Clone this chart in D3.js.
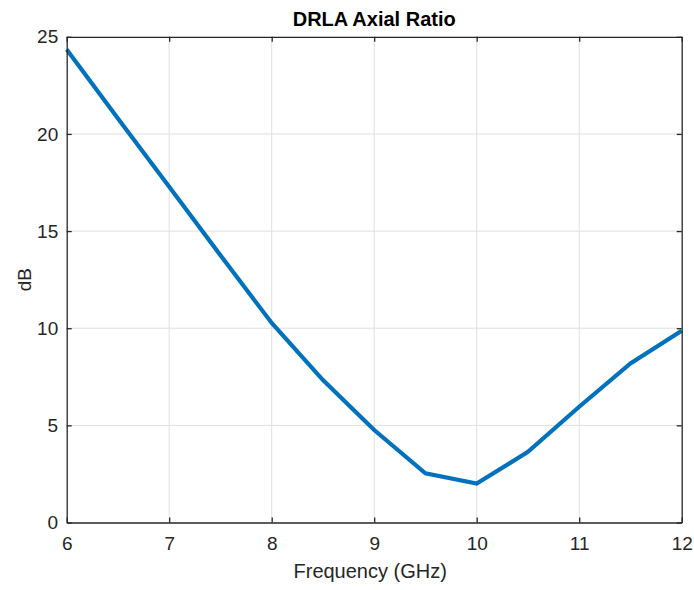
<!DOCTYPE html>
<html>
<head>
<meta charset="utf-8">
<script src="https://cdn.jsdelivr.net/npm/d3@7"></script>
<style>
  html, body { margin: 0; padding: 0; background: #fff; }
  svg { display: block; font-family: "Liberation Sans", Arial, Helvetica, sans-serif; }
</style>
</head>
<body>
<svg id="chart" width="694" height="590"></svg>
<script>
// Axial ratio of the DRLA versus frequency
const frequencyGHz = [6, 6.5, 7, 7.5, 8, 8.5, 9, 9.5, 10, 10.5, 11, 11.5, 12];
const axialRatioDb = [24.35, 20.8, 17.28, 13.75, 10.27, 7.33, 4.76, 2.53, 2.0, 3.64, 5.96, 8.19, 9.87];
const xTicks = [6, 7, 8, 9, 10, 11, 12];
const yTicks = [0, 5, 10, 15, 20, 25];

const svg = d3.select("#chart");
const plot = { left: 66.7, right: 681.7, top: 36.8, bottom: 522.5 };
const axisColor = "#262626";

const x = d3.scaleLinear().domain([6, 12]).range([plot.left, plot.right]);
const y = d3.scaleLinear().domain([0, 25]).range([plot.bottom, plot.top]);

// grid
const grid = svg.append("g").attr("stroke", "#dfdfdf").attr("stroke-width", 1);
grid.selectAll("line.gx").data(xTicks.slice(1, -1)).join("line")
  .attr("x1", d => x(d)).attr("x2", d => x(d))
  .attr("y1", plot.top).attr("y2", plot.bottom);
grid.selectAll("line.gy").data(yTicks.slice(1, -1)).join("line")
  .attr("y1", d => y(d)).attr("y2", d => y(d))
  .attr("x1", plot.left).attr("x2", plot.right);

// data line
const line = d3.line().x((d, i) => x(frequencyGHz[i])).y(d => y(d));
svg.append("path")
  .datum(axialRatioDb)
  .attr("d", line)
  .attr("fill", "none")
  .attr("stroke", "#0072BD")
  .attr("stroke-width", 4.2)
  .attr("stroke-linejoin", "miter");

// axes: boxed, ticks pointing inward on all four sides
const tickLen = 5;
const bottomAxis = d3.axisBottom(x).tickValues(xTicks).tickSize(-tickLen).tickSizeOuter(0).tickPadding(14.5).tickFormat(d3.format("d"));
const topAxis = d3.axisTop(x).tickValues(xTicks).tickSize(-tickLen).tickSizeOuter(0).tickFormat("");
const leftAxis = d3.axisLeft(y).tickValues(yTicks).tickSize(-tickLen).tickSizeOuter(0).tickPadding(8.5).tickFormat(d3.format("d"));
const rightAxis = d3.axisRight(y).tickValues(yTicks).tickSize(-tickLen).tickSizeOuter(0).tickFormat("");

function styleAxis(g) {
  g.select(".domain").attr("stroke", axisColor).attr("stroke-width", 1.3);
  g.selectAll(".tick line").attr("stroke", axisColor).attr("stroke-width", 1.3);
  g.selectAll(".tick text").attr("fill", axisColor).style("font-size", "19px");
}

svg.append("g").attr("transform", `translate(0,${plot.bottom})`).call(bottomAxis).call(styleAxis);
svg.append("g").attr("transform", `translate(0,${plot.top})`).call(topAxis).call(styleAxis);
svg.append("g").attr("transform", `translate(${plot.left},0)`).call(leftAxis).call(styleAxis);
svg.append("g").attr("transform", `translate(${plot.right},0)`).call(rightAxis).call(styleAxis);

// title and axis labels
svg.append("text")
  .attr("x", (plot.left + plot.right) / 2).attr("y", 26)
  .attr("text-anchor", "middle")
  .attr("font-weight", "bold").attr("font-size", "20px").attr("fill", "#000")
  .text("DRLA Axial Ratio");

svg.append("text")
  .attr("x", (plot.left + plot.right) / 2 - 4).attr("y", 577.5)
  .attr("text-anchor", "middle")
  .attr("font-size", "20px").attr("fill", axisColor)
  .text("Frequency (GHz)");

svg.append("text")
  .attr("transform", `translate(31,${(plot.top + plot.bottom) / 2}) rotate(-90)`)
  .attr("text-anchor", "middle")
  .attr("font-size", "19px").attr("fill", axisColor)
  .text("dB");
</script>
</body>
</html>
